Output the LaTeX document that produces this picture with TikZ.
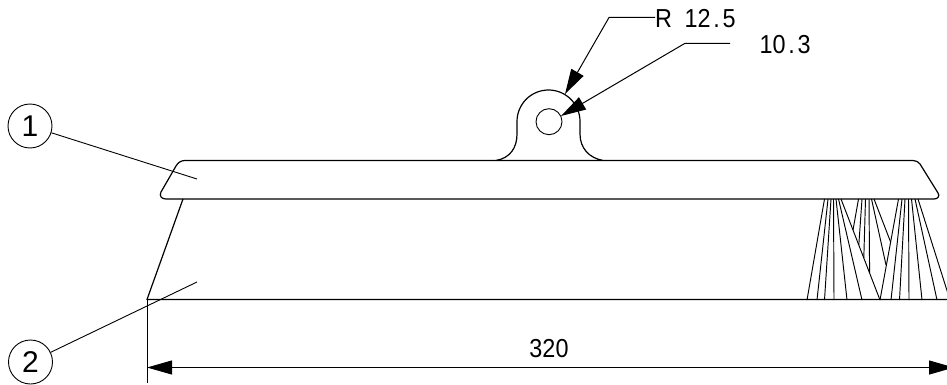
\documentclass[tikz,border=0pt]{standalone}
\usepackage{fontspec}
\setmainfont{Liberation Sans}
\usetikzlibrary{arrows.meta}
\tikzset{
  part/.style={line width=1.2pt,line join=round},
  thin line/.style={line width=0.9pt},
  bristle/.style={line width=0.95pt},
  dimarrow/.style={line width=1pt,-{Triangle[length=25pt,width=14pt]}},
  balloon/.style={circle,draw,line width=0.9pt,minimum size=44pt,inner sep=0pt,font=\fontsize{30}{30}\selectfont},
  dimtext/.style={inner sep=0pt,xscale=0.9,transform shape,font=\fontsize{26}{26}\selectfont}
}
\begin{document}
\begin{tikzpicture}[x=1pt,y=-1pt]
  \useasboundingbox (0,0) rectangle (947,385);
  \clip (0,0) rectangle (947,385);

  \coordinate (BL) at (147,299.5); %base left
  \coordinate (BR) at (947,299.5); %base right
  \coordinate (DL) at (147,367.5); %dimension left
  \coordinate (DR) at (954,367.5); %dimension right

  % bar and lug
  \draw[part] (496,160.5) .. controls (510,158) and (517,148) .. (517,134)
    -- (517,121.5) arc[start angle=180,end angle=360,radius=31.5]
    -- (580,134) .. controls (580,148) and (589,158) .. (603,160.5);
  \draw[part] (185,160.5) -- (913,160.5) .. controls (916,160.5) and (918.5,162) .. (920,164)
    -- (938,193) .. controls (940,196) and (938,199) .. (934,199)
    -- (166,199) .. controls (161.5,199) and (159,196) .. (161,192)
    -- (176,166) .. controls (178,162.5) and (181,160.5) .. (185,160.5) -- cycle;
  \node[circle,draw,line width=0.9pt,minimum size=26pt,inner sep=0pt] (hole) at (549,121.7) {};

  % brush body
  \draw[part] (183,199) -- (BL) -- (BR);

  % bristles
  \foreach \xa/\xb in {824.5/807,828/817,831/824.5,833.5/834,836/847,838.5/862,841/880}
    \draw[bristle] (\xa,199) -- (\xb,300);
  \foreach \xa/\xb in {898.5/880,902/891,905/899.5,908.5/909,911.5/922,915/937,918/950}
    \draw[bristle] (\xa,199) -- (\xb,300);
  \foreach \xa/\xc/\yc in {858.5/853/230,862/858.8/245,865.5/863.8/258,869/869.6/273,871.5/886/265,874/890.6/242}
    \draw[bristle] (\xa,199) -- (\xc,\yc);

  % dimension
  \draw[thin line] (BL) -- (147,383);
  \draw[dimarrow] (500,367.5) -- (DL);
  \draw[dimarrow] (500,367.5) -- (DR);
  \node[dimtext] (len) at (549,349) {320};

  % leaders
  \node[dimtext,anchor=west] (rad) at (655,19) {R\kern14pt 12\kern3pt.\kern3pt5};
  \node[dimtext,anchor=west] (dia) at (759.5,45) {10\kern3pt.\kern3pt3};
  \coordinate (RE) at (609,17.5);
  \coordinate (DE) at (685,43.3);
  \draw[dimarrow] (655,17.5) -- (RE) -- (565,94);
  \draw[dimarrow] (730,43.3) -- (DE) -- (561,116);

  % balloons
  \node[balloon] (one) at (30,126) {1};
  \node[balloon] (two) at (30.5,362) {2};
  \coordinate (oneT) at (197,179);
  \coordinate (twoT) at (197,282);
  \draw[thin line] (one) -- (oneT);
  \draw[thin line] (two) -- (twoT);
\end{tikzpicture}
\end{document}
